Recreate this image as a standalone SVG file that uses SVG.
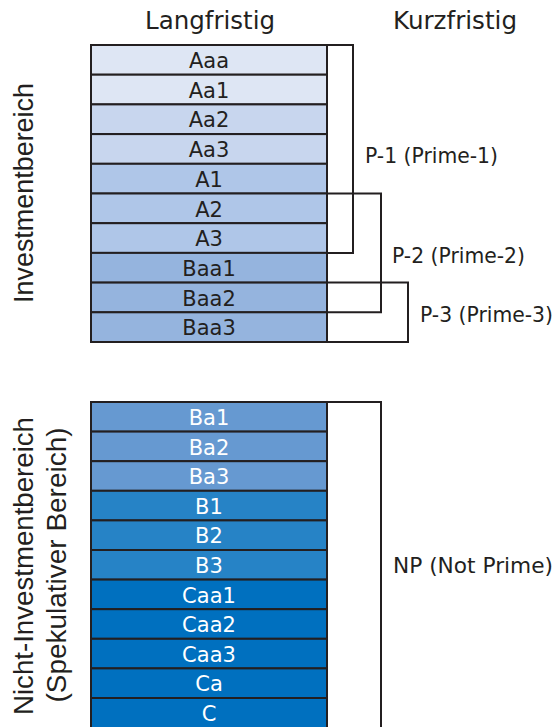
<svg xmlns="http://www.w3.org/2000/svg" width="556" height="727" viewBox="0 0 556 727">
<style>
  .cell { stroke: #231f20; stroke-width: 2; }
  .l1 { fill: #dee6f4; }
  .l2 { fill: #c8d6ee; }
  .l3 { fill: #afc6e8; }
  .l4 { fill: #95b4de; }
  .d1 { fill: #6699d1; }
  .d2 { fill: #2683c6; }
  .d3 { fill: #0070bf; }
  .t { font-family: "DejaVu Sans", "Liberation Sans", sans-serif; font-size: 21px; text-anchor: middle; }
  .tk { fill: #231f20; }
  .tw { fill: #ffffff; }
  .hdr { font-family: "DejaVu Sans", "Liberation Sans", sans-serif; font-size: 24px; fill: #231f20; text-anchor: middle; }
  .lab { font-family: "DejaVu Sans", "Liberation Sans", sans-serif; font-size: 21px; fill: #231f20; }
  .side { font-family: "Liberation Sans", Arial, sans-serif; font-size: 27px; fill: #231f20; text-anchor: middle; }
  .br { fill: none; stroke: #231f20; stroke-width: 2; }
</style>

<text class="hdr" x="210" y="29" textLength="130" lengthAdjust="spacingAndGlyphs">Langfristig</text>
<text class="hdr" x="455" y="29" textLength="124" lengthAdjust="spacingAndGlyphs">Kurzfristig</text>

<text class="side" transform="translate(33,193) rotate(-90)" textLength="220" lengthAdjust="spacingAndGlyphs">Investmentbereich</text>
<text class="side" transform="translate(33,566) rotate(-90)" textLength="298" lengthAdjust="spacingAndGlyphs">Nicht-Investmentbereich</text>
<text class="side" transform="translate(66,565) rotate(-90)" textLength="275" lengthAdjust="spacingAndGlyphs">(Spekulativer Bereich)</text>

<g id="connectors">
  <path class="br" d="M327,45 H353 V252.9 H327"/>
  <path class="br" d="M327,193.5 H381 V312.3 H327"/>
  <path class="br" d="M327,282.6 H408 V342 H327"/>
  <path class="br" d="M327,402 H381 V740"/>
</g>

<g id="investment">
  <g id="Aaa"><rect class="cell l1" x="91" y="45" width="236" height="29.7"/><text class="t tk" x="209" y="68">Aaa</text></g>
  <g id="Aa1"><rect class="cell l1" x="91" y="74.7" width="236" height="29.7"/><text class="t tk" x="209" y="97.7">Aa1</text></g>
  <g id="Aa2"><rect class="cell l2" x="91" y="104.4" width="236" height="29.7"/><text class="t tk" x="209" y="127.4">Aa2</text></g>
  <g id="Aa3"><rect class="cell l2" x="91" y="134.1" width="236" height="29.7"/><text class="t tk" x="209" y="157.1">Aa3</text></g>
  <g id="A1"><rect class="cell l3" x="91" y="163.8" width="236" height="29.7"/><text class="t tk" x="209" y="186.8">A1</text></g>
  <g id="A2"><rect class="cell l3" x="91" y="193.5" width="236" height="29.7"/><text class="t tk" x="209" y="216.5">A2</text></g>
  <g id="A3"><rect class="cell l3" x="91" y="223.2" width="236" height="29.7"/><text class="t tk" x="209" y="246.2">A3</text></g>
  <g id="Baa1"><rect class="cell l4" x="91" y="252.9" width="236" height="29.7"/><text class="t tk" x="209" y="275.9">Baa1</text></g>
  <g id="Baa2"><rect class="cell l4" x="91" y="282.6" width="236" height="29.7"/><text class="t tk" x="209" y="305.6">Baa2</text></g>
  <g id="Baa3"><rect class="cell l4" x="91" y="312.3" width="236" height="29.7"/><text class="t tk" x="209" y="335.3">Baa3</text></g>
</g>

<g id="speculative">
  <g id="Ba1"><rect class="cell d1" x="91" y="402" width="236" height="29.6"/><text class="t tw" x="209" y="425">Ba1</text></g>
  <g id="Ba2"><rect class="cell d1" x="91" y="431.6" width="236" height="29.6"/><text class="t tw" x="209" y="454.6">Ba2</text></g>
  <g id="Ba3"><rect class="cell d1" x="91" y="461.2" width="236" height="29.6"/><text class="t tw" x="209" y="484.2">Ba3</text></g>
  <g id="B1"><rect class="cell d2" x="91" y="490.8" width="236" height="29.6"/><text class="t tw" x="209" y="513.8">B1</text></g>
  <g id="B2"><rect class="cell d2" x="91" y="520.4" width="236" height="29.6"/><text class="t tw" x="209" y="543.4">B2</text></g>
  <g id="B3"><rect class="cell d2" x="91" y="550" width="236" height="29.6"/><text class="t tw" x="209" y="573">B3</text></g>
  <g id="Caa1"><rect class="cell d3" x="91" y="579.6" width="236" height="29.6"/><text class="t tw" x="209" y="602.6">Caa1</text></g>
  <g id="Caa2"><rect class="cell d3" x="91" y="609.2" width="236" height="29.6"/><text class="t tw" x="209" y="632.2">Caa2</text></g>
  <g id="Caa3"><rect class="cell d3" x="91" y="638.8" width="236" height="29.6"/><text class="t tw" x="209" y="661.8">Caa3</text></g>
  <g id="Ca"><rect class="cell d3" x="91" y="668.4" width="236" height="29.6"/><text class="t tw" x="209" y="691.4">Ca</text></g>
  <g id="C"><rect class="cell d3" x="91" y="698" width="236" height="40"/><text class="t tw" x="209" y="721">C</text></g>
</g>

<g id="P1"><text class="lab" x="365" y="163" textLength="133" lengthAdjust="spacingAndGlyphs">P-1 (Prime-1)</text></g>
<g id="P2"><text class="lab" x="392" y="263" textLength="133" lengthAdjust="spacingAndGlyphs">P-2 (Prime-2)</text></g>
<g id="P3"><text class="lab" x="420" y="322" textLength="133" lengthAdjust="spacingAndGlyphs">P-3 (Prime-3)</text></g>
<g id="NP"><text class="lab" x="393" y="573" textLength="160" lengthAdjust="spacingAndGlyphs">NP (Not Prime)</text></g>
</svg>
